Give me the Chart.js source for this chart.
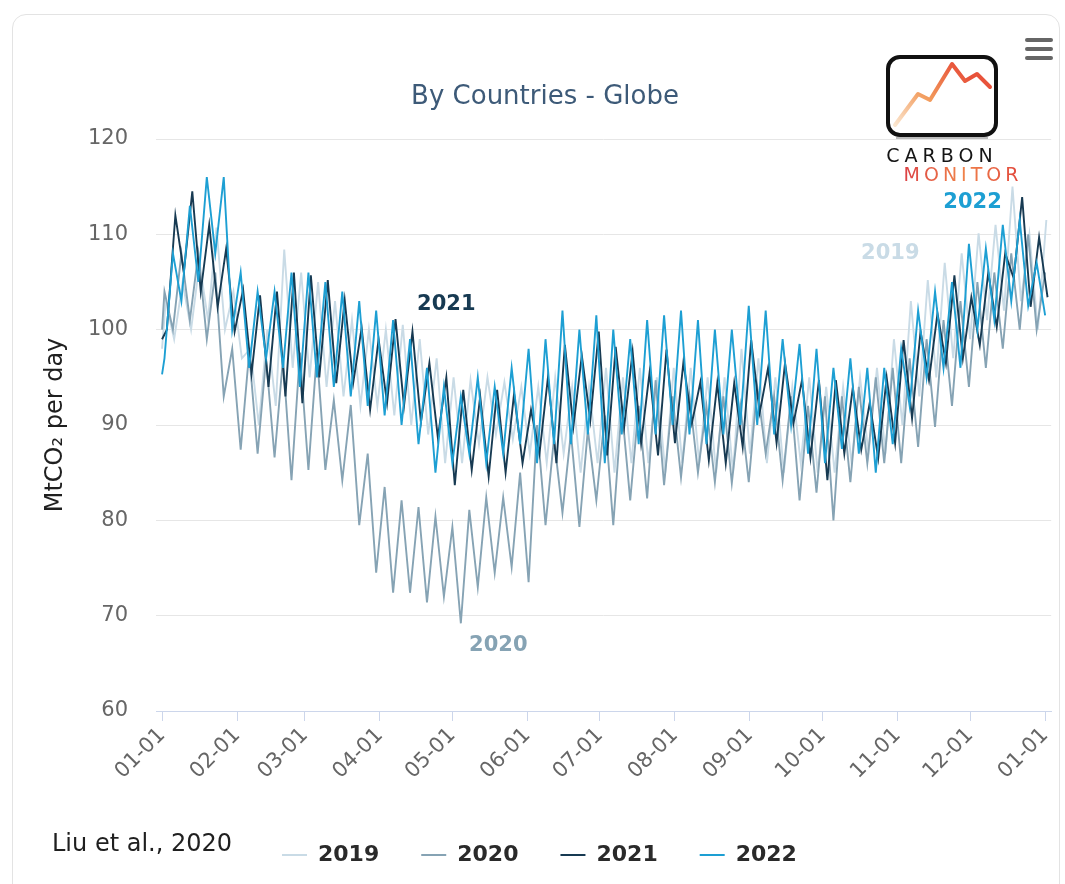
<!DOCTYPE html>
<html>
<head>
<meta charset="utf-8">
<title>By Countries - Globe</title>
<script src="https://cdn.jsdelivr.net/npm/chart.js@4/dist/chart.umd.min.js"></script>
<style>
  html, body { margin: 0; padding: 0; background: #fff; }
  #wrap { position: relative; width: 1065px; height: 884px; overflow: hidden; background: #fff; }
  #card { position: absolute; left: 12px; top: 14px; width: 1048px; height: 920px;
          border: 1px solid #e3e3e3; border-radius: 14px; box-sizing: border-box; }
  #c { position: absolute; left: 0; top: 0; }
  #logo { position: absolute; left: 878px; top: 48px; }
  #menu { position: absolute; left: 1022px; top: 35px; }
</style>
</head>
<body>
<div id="wrap">
  <div id="card"></div>
  <canvas id="c" width="1065" height="884"></canvas>

  <svg id="logo" width="155" height="140" viewBox="878 48 155 140">
    <defs>
      <linearGradient id="lineGrad" gradientUnits="userSpaceOnUse" x1="895" y1="125" x2="955" y2="63">
        <stop offset="0" stop-color="#fbe6cf"/>
        <stop offset="0.5" stop-color="#f29a5b"/>
        <stop offset="1" stop-color="#e8533b"/>
      </linearGradient>
      <linearGradient id="textGrad" gradientUnits="userSpaceOnUse" x1="898" y1="0" x2="1026" y2="0">
        <stop offset="0" stop-color="#d93a43"/>
        <stop offset="0.5" stop-color="#f0834a"/>
        <stop offset="1" stop-color="#e0433c"/>
      </linearGradient>
    </defs>
    <rect x="888" y="57" width="108" height="78" rx="12" ry="12" fill="#fff" stroke="#111" stroke-width="4"/>
    <line x1="896" y1="138" x2="988" y2="138" stroke="#bbb" stroke-width="2"/>
    <polyline points="895,125 918,94 930,100 952,64 965,81 977,74 990,87"
              fill="none" stroke="url(#lineGrad)" stroke-width="4" stroke-linejoin="round" stroke-linecap="round"/>
    <text x="942" y="162" text-anchor="middle" font-family="'DejaVu Sans', sans-serif" font-size="19"
          letter-spacing="5" fill="#151515">CARBON</text>
    <text x="963" y="181" text-anchor="middle" font-family="'DejaVu Sans', sans-serif" font-size="19"
          letter-spacing="4" fill="url(#textGrad)">MONITOR</text>
  </svg>

  <svg id="menu" width="34" height="28" viewBox="1022 35 34 28">
    <rect x="1025" y="38" width="28" height="4" rx="2" fill="#666"/>
    <rect x="1025" y="47" width="28" height="4" rx="2" fill="#666"/>
    <rect x="1025" y="56" width="28" height="4" rx="2" fill="#666"/>
  </svg>
</div>

<script>
// Month-start tick labels on a day-of-year axis
const monthTicks = ['01-01','02-01','03-01','04-01','05-01','06-01','07-01',
                    '08-01','09-01','10-01','11-01','12-01','01-01'];
const monthStartDays = [0, 31, 59, 90, 120, 151, 181, 212, 243, 273, 304, 334, 365];

const years = ['2019', '2020', '2021', '2022'];

// Daily emissions on 1 January (MtCO2 per day)
const jan1Value = [98, 100, 99, 95.3];
// Day of year of the first weekly swing after 1 January
// (2019/2020 open with a weekday high, 2021/2022 with a Sunday low)
const firstSwingDay = [1.5, 1, 2, 1];

// Alternating weekly highs and lows, half a week apart (MtCO2 per day)
const swings2019 = [
  103, 99, 105, 100, 107, 101, 110.7, 100, 104, 97, 98, 90, 100, 92, 108.4, 96,
  106, 95, 105, 94, 103, 93, 101, 92, 100, 92, 100, 91, 100.5, 90, 99, 89,
  97, 86, 95, 86, 94.7, 88, 95, 89, 94.5, 88.5, 94, 87, 94, 86, 95, 87,
  94, 85, 94, 86, 96, 85, 95, 86, 96, 86, 95, 85, 96, 86, 96, 86,
  95, 85, 95, 85, 98, 87, 97, 86, 95, 85, 94, 86, 95, 85, 94, 85,
  94, 86, 95, 87, 96, 87, 99, 90, 103, 93, 105.2, 95, 107, 97, 108, 99,
  110.1, 101, 111, 102, 115, 103, 110, 100, 111.5
];
const swings2020 = [
  104, 100, 108, 101, 108, 99, 106, 93, 98, 87.4, 97.6, 87, 97, 86.6, 97, 84.2,
  97.6, 85.3, 97.6, 85.3, 92.6, 84.2, 92.1, 79.5, 87, 74.5, 83.5, 72.4, 82.1, 72.4, 81.4, 71.4,
  80.4, 72, 79.3, 69.2, 81.1, 73, 82.4, 74.5, 82.4, 75.1, 85, 73.5, 90, 79.5, 88.6, 80.8,
  89.2, 79.3, 89.5, 82.1, 91, 79.5, 91.9, 82.1, 92, 82.3, 94.7, 83.7, 93, 84.5, 93, 85,
  92, 84, 93, 83.9, 92, 84, 94, 87, 93, 84.2, 93, 82.1, 92, 82.9, 93, 80,
  93, 84, 94, 86, 95, 86, 96, 86, 97, 87.7, 99, 89.8, 101, 92, 103, 94,
  105, 96, 106, 98, 108, 100, 110, 100, 106
];
const swings2021 = [
  100, 112, 106, 114.5, 104, 111, 102.4, 108.5, 99.8, 104.2, 95.4, 103.6, 94, 104, 93, 106,
  92.3, 105.7, 95, 105.2, 94.4, 103.1, 94.4, 100.2, 91.6, 99, 92.3, 101.1, 92, 99.8, 90.3, 96.5,
  88.7, 95, 83.7, 93.7, 85.3, 93, 84.6, 93.7, 85, 93.3, 86, 91.6, 87, 95, 86, 98.4,
  89.8, 97.3, 90.5, 99.8, 86.8, 98.2, 89.8, 97.7, 88.1, 95.5, 86.8, 97.9, 88.1, 96.6, 90.2, 94.5,
  86.3, 94.4, 86, 94.4, 87.7, 98.9, 91.3, 96, 88.1, 96.5, 90.2, 94.7, 86.6, 94.7, 84.2, 94.7,
  87, 93.9, 87.4, 92.3, 86.5, 95, 88.1, 98.9, 90.7, 99.8, 94.7, 101.7, 96.5, 105.7, 97, 103.4,
  98.4, 106, 100.3, 108, 105.4, 113.9, 102.4, 109.7, 103.4
];
const swings2022 = [
  97, 108, 103, 113, 105, 116, 108, 116, 100, 106, 96, 104, 97, 104, 96, 106,
  94, 106, 95, 105, 94, 104, 93, 103, 92, 102, 91, 101, 90, 99, 88, 96,
  85, 94, 86, 93, 87, 95, 86, 94, 87, 96, 88, 98, 86, 99, 88, 102,
  88, 100, 89, 101.5, 86, 100, 89, 99, 88, 101, 89, 101.5, 90, 102, 89, 101,
  88, 100, 89, 100, 90, 102.5, 90, 102, 89, 99, 90, 98.5, 87, 98, 86, 96,
  87.5, 97, 87, 96, 85, 96, 88, 98, 92, 102, 95, 104, 96, 105, 96, 109,
  100, 108.5, 101, 111, 103, 111.5, 102.5, 107, 101.5
];
const swingsByYear = [swings2019, swings2020, swings2021, swings2022];

const lineColors = ['#c9dbe6', '#86a3b4', '#173a52', '#1d9fd3'];

// In-chart year labels, placed in data coordinates (day of year, MtCO2)
const noteDay = [301, 139, 117.5, 335];
const noteValue = [108, 66.9, 102.6, 113.3];

const FONT = '"DejaVu Sans", Lato, sans-serif';

function yearPoints(i) {
  const pts = [{ x: 0, y: jan1Value[i] }];
  swingsByYear[i].forEach((v, k) => pts.push({ x: firstSwingDay[i] + 3.5 * k, y: v }));
  return pts;
}

const datasets = years.map((label, i) => ({
  label,
  data: yearPoints(i),
  borderColor: lineColors[i],
  backgroundColor: lineColors[i],
  borderWidth: 1.9,
  pointRadius: 0,
  pointHoverRadius: 0,
  tension: 0,
  fill: false,
  order: years.length - i   // later years are drawn on top
}));

const textLayer = {
  id: 'textLayer',
  afterDatasetsDraw(chart) {
    const { ctx, scales: { x, y } } = chart;
    ctx.save();
    ctx.font = 'bold 21px ' + FONT;
    ctx.textAlign = 'center';
    ctx.textBaseline = 'middle';
    years.forEach((yr, i) => {
      ctx.fillStyle = lineColors[i];
      ctx.fillText(yr, x.getPixelForValue(noteDay[i]), y.getPixelForValue(noteValue[i]));
    });
    ctx.restore();
  },
  afterDraw(chart) {
    const { ctx } = chart;
    ctx.save();
    // chart title
    ctx.font = '26px ' + FONT;
    ctx.fillStyle = '#3d5a78';
    ctx.textAlign = 'center';
    ctx.textBaseline = 'middle';
    ctx.fillText('By Countries - Globe', 545, 97);

    // source note and legend
    ctx.textAlign = 'left';
    ctx.font = '24px ' + FONT;
    ctx.fillStyle = '#1f1f1f';
    ctx.fillText('Liu et al., 2020', 52, 845);

    let lx = 282;
    const ly = 855;
    ctx.font = 'bold 22px ' + FONT;
    chart.data.datasets.forEach(ds => {
      ctx.strokeStyle = ds.borderColor;
      ctx.lineWidth = 2;
      ctx.beginPath();
      ctx.moveTo(lx, ly);
      ctx.lineTo(lx + 25, ly);
      ctx.stroke();
      ctx.fillStyle = '#2a2a2a';
      ctx.fillText(ds.label, lx + 36, ly);
      lx += 36 + ctx.measureText(ds.label).width + 42;
    });
    ctx.restore();
  }
};

new Chart(document.getElementById('c'), {
  type: 'line',
  data: { datasets },
  options: {
    responsive: false,
    animation: false,
    events: [],
    layout: { padding: { left: 0, right: 7, top: 139, bottom: 73 } },
    plugins: {
      legend: { display: false },
      title: { display: false },
      tooltip: { enabled: false }
    },
    scales: {
      x: {
        type: 'linear',
        min: -2.5,
        max: 367.5,
        afterBuildTicks(axis) { axis.ticks = monthStartDays.map(v => ({ value: v })); },
        afterFit(axis) { axis.height = 100; },
        ticks: {
          autoSkip: false,
          minRotation: 45,
          maxRotation: 45,
          padding: 2,
          color: '#666',
          font: { family: FONT, size: 21 },
          callback: (value, index) => monthTicks[index]
        },
        grid: { drawOnChartArea: false, drawTicks: true, tickLength: 10, color: '#ccd6eb' },
        border: { display: true, color: '#ccd6eb', width: 1 }
      },
      y: {
        min: 60,
        max: 120,
        afterFit(axis) { axis.width = 156; },
        ticks: {
          stepSize: 10,
          padding: 28,
          color: '#666',
          font: { family: FONT, size: 21 }
        },
        grid: { color: '#e6e6e6', drawTicks: false },
        border: { display: false },
        title: {
          display: true,
          text: 'MtCO\u2082 per day',
          color: '#1f1f1f',
          font: { family: FONT, size: 24 },
          padding: { top: 41, bottom: 0 }
        }
      }
    }
  },
  plugins: [textLayer]
});
</script>
</body>
</html>
